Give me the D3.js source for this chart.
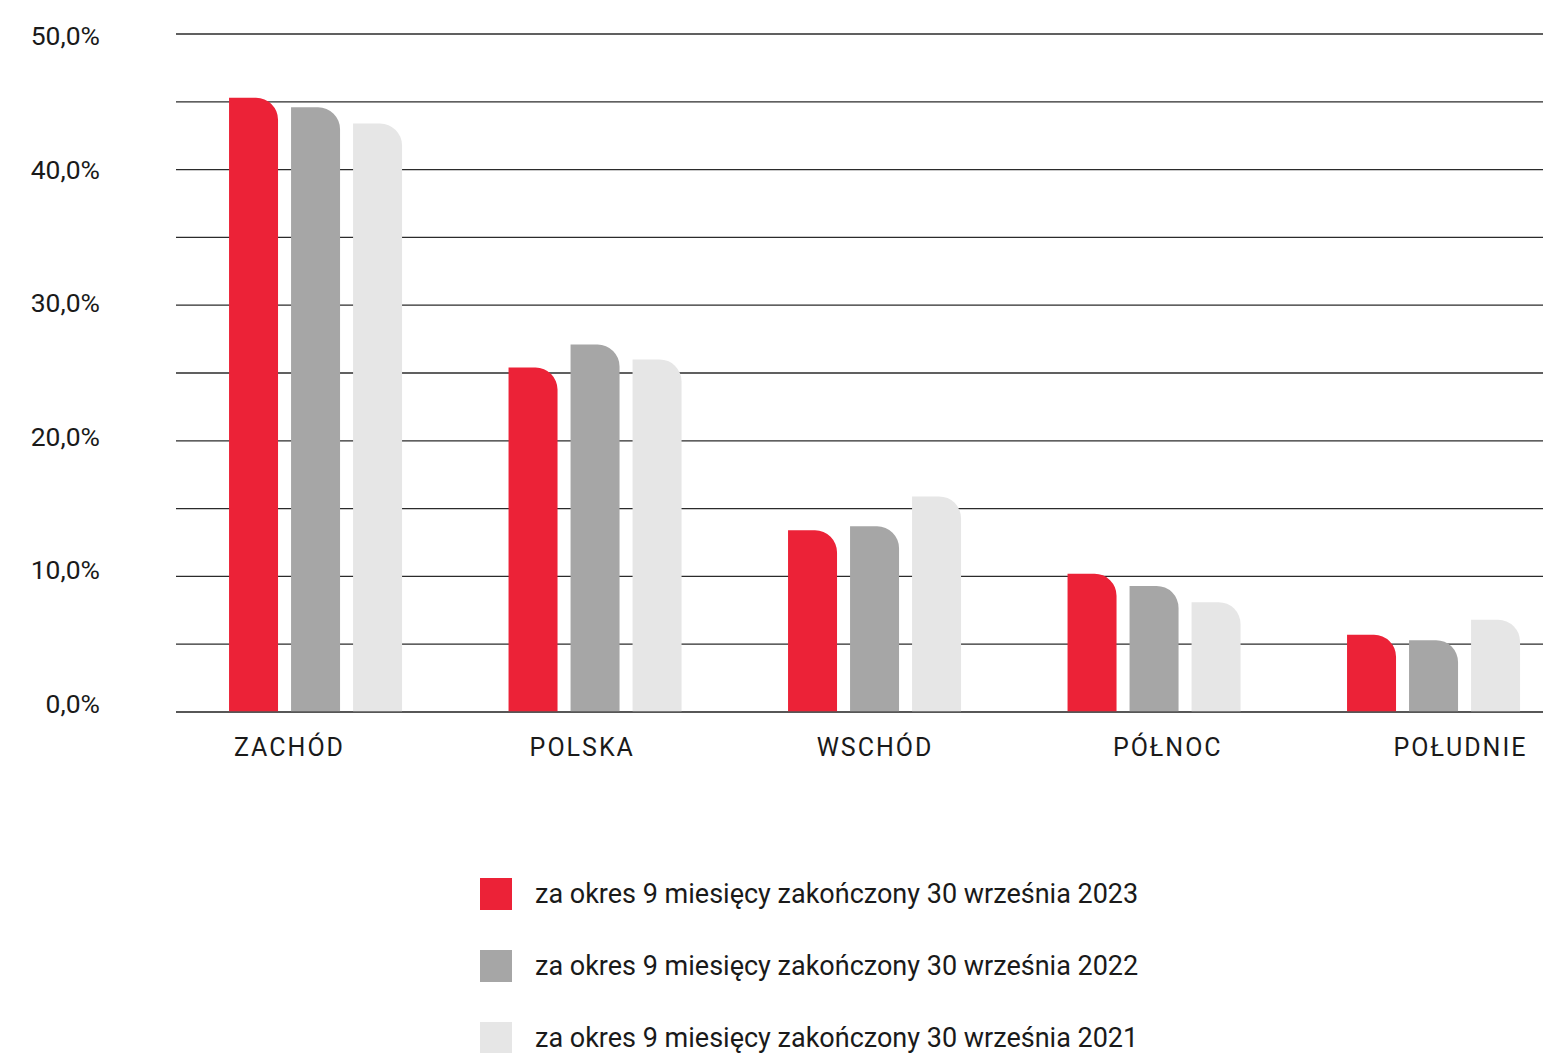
<!DOCTYPE html>
<html><head><meta charset="utf-8">
<script src="https://cdn.jsdelivr.net/npm/d3@7"></script>
<style>body{margin:0;background:#fff;} svg{display:block;font-family:Roboto,"Noto Sans",sans-serif;}</style>
</head><body>
<script>
const categories = ["ZACHÓD","POLSKA","WSCHÓD","PÓŁNOC","POŁUDNIE"];
const seriesNames = [
  "za okres 9 miesięcy zakończony 30 września 2023",
  "za okres 9 miesięcy zakończony 30 września 2022",
  "za okres 9 miesięcy zakończony 30 września 2021"
];
const values2023 = [45.3, 25.4, 13.4, 10.2, 5.7];
const values2022 = [44.6, 27.1, 13.7, 9.3, 5.3];
const values2021 = [43.4, 26.0, 15.9, 8.1, 6.8];
const seriesColors = ["#EC2237", "#A6A6A6", "#E6E6E6"];
const yTicks = [0, 10, 20, 30, 40, 50];
const gridTicks = [0,5,10,15,20,25,30,35,40,45,50];

const allValues = [values2023, values2022, values2021];
const W = 1543, H = 1053;
const svg = d3.select("body").append("svg").attr("width", W).attr("height", H);

const y = d3.scaleLinear().domain([0, 50]).range([712, 34]);
const yLab = d3.scaleLinear().domain([0, 50]).range([704, 36]);
const x0 = d3.scaleBand().domain(categories).range([175.8, 1573.3]).paddingInner(0.381).paddingOuter(0.1905);
const x1 = d3.scaleBand().domain([0,1,2]).range([0, x0.bandwidth()]).paddingInner(0.21).paddingOuter(0);
const xLabel = d3.scalePoint().domain(categories).range([289, 1460]);

// grid
svg.append("g").selectAll("line").data(gridTicks).join("line")
  .attr("x1", 176).attr("x2", W)
  .attr("y1", d => y(d)).attr("y2", d => y(d))
  .attr("stroke", "#2b2b2b").attr("stroke-width", 1.3);

// y axis labels
const yAxis = d3.axisLeft(yLab).tickValues(yTicks).tickSize(0).tickPadding(0)
  .tickFormat(d => d3.format(".1f")(d).replace(".", ",") + "%");
const gy = svg.append("g").attr("transform", "translate(100,0)").call(yAxis);
gy.select(".domain").remove();
gy.selectAll("text").attr("font-size", 26.5).attr("fill", "#1a1a1a").style("font-family","Roboto");

// bars
const r = 22;
function barPath(xl, w, yt, yb) {
  const rr = Math.min(r, yb - yt, w);
  return `M${xl},${yb}V${yt}H${xl + w - rr}A${rr},${rr} 0 0 1 ${xl + w},${yt + rr}V${yb}Z`;
}
const groups = svg.append("g").selectAll("g").data(categories).join("g")
  .attr("transform", c => `translate(${x0(c)},0)`);
groups.selectAll("path").data((c, ci) => allValues.map((vals, si) => ({si, v: vals[ci]}))).join("path")
  .attr("d", d => barPath(x1(d.si), x1.bandwidth(), y(d.v), y(0)))
  .attr("fill", d => seriesColors[d.si]);

// baseline over bars
svg.append("line").attr("x1", 176).attr("x2", W).attr("y1", y(0)).attr("y2", y(0))
  .attr("stroke", "#555").attr("stroke-width", 1.3);

// x labels
const xAxis = d3.axisBottom(xLabel).tickSize(0).tickPadding(0);
const gx = svg.append("g").attr("transform", "translate(0,747)").call(xAxis);
gx.select(".domain").remove();
gx.selectAll("text").attr("font-size", 25).attr("fill", "#1a1a1a").attr("dy", "0.35em")
  .style("letter-spacing", "2px").style("font-family","Roboto");

// legend
const legY = d3.scalePoint().domain(seriesNames).range([894, 1038]);
const leg = svg.append("g").selectAll("g").data(seriesNames).join("g")
  .attr("transform", d => `translate(480,${legY(d)})`);
leg.append("rect").attr("x", 0).attr("y", -16).attr("width", 32).attr("height", 32)
  .attr("fill", (d, i) => seriesColors[i]);
leg.append("text").attr("x", 55).attr("y", 0).attr("dy", "0.35em")
  .attr("font-size", 27).attr("fill", "#1a1a1a").text(d => d);
</script>
</body></html>
